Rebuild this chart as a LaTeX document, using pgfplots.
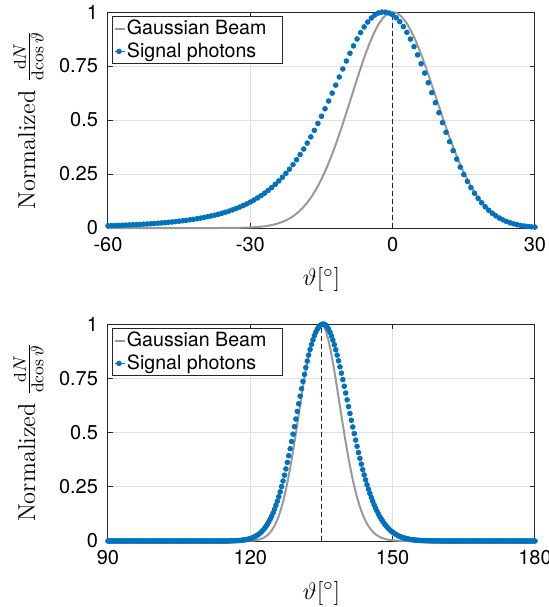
\documentclass[border=0pt]{standalone}
\usepackage{fontspec}
\usepackage{pgfplots}
\pgfplotsset{compat=1.18}
\newfontfamily\helv{TeX Gyre Heros}

\definecolor{mblue}{RGB}{0,114,189}
\definecolor{mgray}{RGB}{153,153,153}
\definecolor{axgray}{RGB}{38,38,38}
\definecolor{gridgray}{RGB}{225,225,225}

\pgfplotsset{
  panel/.style={
    scale only axis, width=213.5pt,
    ymin=0, ymax=1,
    ytick={0,0.25,0.5,0.75,1}, yticklabels={0,0.25,0.5,0.75,1},
    axis line style={draw=axgray, line width=0.5pt},
    tick style={draw=axgray, line width=0.5pt},
    major tick length=2.5pt,
    tick align=inside,
    xmajorgrids, ymajorgrids,
    major grid style={draw=gridgray, line width=0.5pt},
    tick label style={font=\fontsize{10}{12}\selectfont\helv},
    yticklabel style={xshift=-1.5pt},
    xticklabel style={yshift=-1pt},
    xlabel={$\vartheta[^\circ]$},
    ylabel={Normalized $\frac{\mathrm{d}N}{\mathrm{dcos}\,\vartheta}$},
    label style={font=\fontsize{12.2}{14}\selectfont},
    ylabel style={at={(axis description cs:-0.186,0.5)}, anchor=center},
    xlabel style={at={(axis description cs:0.5,-0.24)}, anchor=center},
    clip=false,
    reverse legend,
    legend cell align=left,
    legend style={at={(rel axis cs:0,1)}, anchor=north west,
      xshift=2pt, yshift=-2pt, draw=axgray, line width=0.5pt, fill=white,
      font=\fontsize{9.8}{11}\selectfont\helv,
      inner xsep=0.75pt, inner ysep=0.75pt, column sep=0pt, row sep=0pt,
      nodes={inner xsep=0.5pt, inner ysep=1.15pt}},
  },
  photons/.style={color=mblue, only marks, mark=*, mark size=1.2pt,
    mark options={solid, draw=mblue, fill=mblue, line width=0.35pt},
    legend image code/.code={\path (0pt,0pt) -- (5pt,0pt);
      \draw[##1] plot coordinates {(2pt,0pt)};}},
  beam/.style={color=mgray, no marks, line width=1pt,
    legend image code/.code={\draw[##1] (0pt,0pt) -- (5pt,0pt);}},
  peak/.style={forget plot, no marks, draw=axgray, line width=0.55pt,
    dash pattern=on 2.5pt off 1.5pt},
}

\begin{document}
\begin{tikzpicture}
\useasboundingbox (0,0) rectangle (274.5pt,-303.5pt);

% ---------- forward direction ----------
\begin{axis}[panel, height=108pt, at={(54pt,-6pt)}, anchor=north west,
  xmin=-60, xmax=30, xtick={-60,-30,0,30}, xticklabels={-60,-30,0,30}]
\addplot[photons] coordinates {
(-60,0.0105) (-59.25,0.0110) (-58.5,0.0116) (-57.75,0.0122) (-57,0.0128)
(-56.25,0.0135) (-55.5,0.0142) (-54.75,0.0150) (-54,0.0158) (-53.25,0.0167)
(-52.5,0.0176) (-51.75,0.0186) (-51,0.0197) (-50.25,0.0208) (-49.5,0.0221)
(-48.75,0.0234) (-48,0.0248) (-47.25,0.0263) (-46.5,0.0279) (-45.75,0.0296)
(-45,0.0314) (-44.25,0.0334) (-43.5,0.0355) (-42.75,0.0378) (-42,0.0403)
(-41.25,0.0429) (-40.5,0.0458) (-39.75,0.0488) (-39,0.0522) (-38.25,0.0557)
(-37.5,0.0596) (-36.75,0.0637) (-36,0.0683) (-35.25,0.0731) (-34.5,0.0783)
(-33.75,0.0840) (-33,0.0902) (-32.25,0.0968) (-31.5,0.1040) (-30.75,0.1117)
(-30,0.1202) (-29.25,0.1293) (-28.5,0.1391) (-27.75,0.1498) (-27,0.1614)
(-26.25,0.1739) (-25.5,0.1873) (-24.75,0.2019) (-24,0.2177) (-23.25,0.2346)
(-22.5,0.2528) (-21.75,0.2724) (-21,0.2934) (-20.25,0.3160) (-19.5,0.3400)
(-18.75,0.3658) (-18,0.3930) (-17.25,0.4218) (-16.5,0.4522) (-15.75,0.4842)
(-15,0.5174) (-14.25,0.5521) (-13.5,0.5879) (-12.75,0.6244) (-12,0.6615)
(-11.25,0.6989) (-10.5,0.7362) (-9.75,0.7731) (-9,0.8089) (-8.25,0.8431)
(-7.5,0.8751) (-6.75,0.9046) (-6,0.9310) (-5.25,0.9536) (-4.5,0.9722)
(-3.75,0.9862) (-3,0.9955) (-2.25,0.9997) (-1.5,0.9993) (-0.75,0.9951)
(0,0.9864) (0.75,0.9732) (1.5,0.9552) (2.25,0.9327) (3,0.9057)
(3.75,0.8746) (4.5,0.8398) (5.25,0.8016) (6,0.7606) (6.75,0.7174)
(7.5,0.6725) (8.25,0.6266) (9,0.5801) (9.75,0.5336) (10.5,0.4877)
(11.25,0.4429) (12,0.3996) (12.75,0.3581) (13.5,0.3188) (14.25,0.2819)
(15,0.2476) (15.75,0.2160) (16.5,0.1872) (17.25,0.1611) (18,0.1376)
(18.75,0.1167) (19.5,0.0983) (20.25,0.0823) (21,0.0683) (21.75,0.0564)
(22.5,0.0462) (23.25,0.0375) (24,0.0303) (24.75,0.0243) (25.5,0.0193)
(26.25,0.0152) (27,0.0119) (27.75,0.0093) (28.5,0.0072) (29.25,0.0055)
(30,0.0042)
};
\addlegendentry{Signal photons}
\addplot[beam] coordinates {
(-60,0) (-37,0) (-36,0.0002) (-35,0.0003) (-34,0.0005) (-33,0.0008)
(-32,0.0012) (-31,0.0018) (-30,0.0026) (-29,0.0039) (-28,0.0056)
(-27,0.0081) (-26,0.0115) (-25,0.0161) (-24,0.0223) (-23,0.0304)
(-22,0.0409) (-21,0.0543) (-20,0.0712) (-19,0.0921) (-18,0.1176)
(-17,0.1482) (-16,0.1843) (-15,0.2262) (-14,0.2740) (-13,0.3275)
(-12,0.3863) (-11,0.4497) (-10,0.5166) (-9,0.5856) (-8,0.6552)
(-7,0.7235) (-6,0.7884) (-5,0.8478) (-4,0.8997) (-3,0.9423)
(-2,0.9739) (-1,0.9934) (0,1) (1,0.9940) (2,0.9761) (3,0.9471)
(4,0.9079) (5,0.8599) (6,0.8047) (7,0.7439) (8,0.6795) (9,0.6132)
(10,0.5467) (11,0.4816) (12,0.4192) (13,0.3605) (14,0.3062) (15,0.2571)
(16,0.2132) (17,0.1746) (18,0.1414) (19,0.1131) (20,0.0893) (21,0.0698)
(22,0.0538) (23,0.0410) (24,0.0309) (25,0.0230) (26,0.0169) (27,0.0123)
(28,0.0088) (29,0.0062) (30,0.0044)
};
\addlegendentry{Gaussian Beam\hspace*{6.8pt}}
\addplot[peak] coordinates {(0,0) (0,1)};
\end{axis}

% ---------- backward direction ----------
\begin{axis}[panel, height=108.5pt, at={(54pt,-162pt)}, anchor=north west,
  xmin=90, xmax=180, xtick={90,120,150,180}, xticklabels={90,120,150,180}]
\addplot[photons] coordinates {
(90,0) (90.3,0) (90.6,0) (90.9,0) (91.2,0) (91.5,0) (91.8,0) (92.1,0) (92.4,0) (92.7,0)
(93,0) (93.3,0) (93.6,0) (93.9,0) (94.2,0) (94.5,0) (94.8,0) (95.1,0) (95.4,0) (95.7,0)
(96,0) (96.3,0) (96.6,0) (96.9,0) (97.2,0) (97.5,0) (97.8,0) (98.1,0) (98.4,0) (98.7,0)
(99,0) (99.3,0) (99.6,0) (99.9,0) (100.2,0) (100.5,0) (100.8,0) (101.1,0) (101.4,0) (101.7,0)
(102,0) (102.3,0) (102.6,0) (102.9,0) (103.2,0) (103.5,0) (103.8,0) (104.1,0) (104.4,0) (104.7,0)
(105,0) (105.3,0) (105.6,0) (105.9,0) (106.2,0) (106.5,0) (106.8,0) (107.1,0) (107.4,0) (107.7,0)
(108,0) (108.3,0) (108.6,0) (108.9,0) (109.2,0) (109.5,0) (109.8,0) (110.1,0) (110.4,0) (110.7,0)
(111,0) (111.3,0) (111.6,0) (111.9,0) (112.2,0) (112.5,0) (112.8,0) (113.1,0) (113.4,0) (113.7,0)
(114,0) (114.3,0) (114.6,0) (114.9,0) (115.2,0) (115.5,0.0004)
(115.8,0.0006) (116.1,0.0008) (116.4,0.0010) (116.7,0.0012) (117.0,0.0015)
(117.3,0.0019) (117.6,0.0023) (117.9,0.0029) (118.2,0.0035) (118.5,0.0043)
(118.8,0.0053) (119.1,0.0064) (119.4,0.0078) (119.7,0.0095) (120.0,0.0114)
(120.3,0.0136) (120.6,0.0163) (120.9,0.0194) (121.2,0.0229) (121.5,0.0271)
(121.8,0.0318) (122.1,0.0372) (122.4,0.0435) (122.7,0.0504) (123.0,0.0584)
(123.3,0.0674) (123.6,0.0773) (123.9,0.0885) (124.2,0.1009) (124.5,0.1146)
(124.8,0.1296) (125.1,0.1461) (125.4,0.1640) (125.7,0.1834) (126.0,0.2044)
(126.3,0.2269) (126.6,0.2510) (126.9,0.2766) (127.2,0.3037) (127.5,0.3322)
(127.8,0.3621) (128.1,0.3931) (128.4,0.4254) (128.7,0.4586) (129.0,0.4925)
(129.3,0.5271) (129.6,0.5621) (129.9,0.5974) (130.2,0.6325) (130.5,0.6675)
(130.8,0.7019) (131.1,0.7355) (131.4,0.7680) (131.7,0.7993) (132.0,0.8290)
(132.3,0.8568) (132.6,0.8827) (132.9,0.9063) (133.2,0.9275) (133.5,0.9462)
(133.8,0.9622) (134.1,0.9754) (134.4,0.9857) (134.7,0.9932) (135.0,0.9979)
(135.3,0.9999) (135.6,0.9990) (135.9,0.9943) (136.2,0.9863) (136.5,0.9752)
(136.8,0.9613) (137.1,0.9448) (137.4,0.9259) (137.7,0.9047) (138.0,0.8816)
(138.3,0.8568) (138.6,0.8303) (138.9,0.8025) (139.2,0.7735) (139.5,0.7437)
(139.8,0.7131) (140.1,0.6821) (140.4,0.6507) (140.7,0.6192) (141.0,0.5877)
(141.3,0.5565) (141.6,0.5256) (141.9,0.4951) (142.2,0.4653) (142.5,0.4362)
(142.8,0.4079) (143.1,0.3806) (143.4,0.3543) (143.7,0.3289) (144.0,0.3046)
(144.3,0.2815) (144.6,0.2595) (144.9,0.2387) (145.2,0.2190) (145.5,0.2005)
(145.8,0.1831) (146.1,0.1669) (146.4,0.1516) (146.7,0.1376) (147.0,0.1245)
(147.3,0.1124) (147.6,0.1013) (147.9,0.0910) (148.2,0.0816) (148.5,0.0730)
(148.8,0.0651) (149.1,0.0580) (149.4,0.0515) (149.7,0.0457) (150.0,0.0405)
(150.3,0.0357) (150.6,0.0315) (150.9,0.0276) (151.2,0.0242) (151.5,0.0212)
(151.8,0.0185) (152.1,0.0161) (152.4,0.0140) (152.7,0.0121) (153.0,0.0105)
(153.3,0.0091) (153.6,0.0078) (153.9,0.0067) (154.2,0.0058) (154.5,0.0049)
(154.8,0.0042) (155.1,0.0036) (155.4,0.0031) (155.7,0.0026) (156.0,0.0022)
(156.3,0.0019) (156.6,0.0016) (156.9,0.0013) (157.2,0.0011) (157.5,0.0009)
(157.8,0.0008) (158.1,0.0006) (158.4,0.0005)
(158.7,0.0004) (159,0.0003) (159.3,0.0003) (159.6,0.0002) (159.9,0.0002)
(160.2,0) (160.5,0) (160.8,0) (161.1,0) (161.4,0) (161.7,0) (162,0) (162.3,0) (162.6,0) (162.9,0)
(163.2,0) (163.5,0) (163.8,0) (164.1,0) (164.4,0) (164.7,0) (165,0) (165.3,0) (165.6,0) (165.9,0)
(166.2,0) (166.5,0) (166.8,0) (167.1,0) (167.4,0) (167.7,0) (168,0) (168.3,0) (168.6,0) (168.9,0)
(169.2,0) (169.5,0) (169.8,0) (170.1,0) (170.4,0) (170.7,0) (171,0) (171.3,0) (171.6,0) (171.9,0)
(172.2,0) (172.5,0) (172.8,0) (173.1,0) (173.4,0) (173.7,0) (174,0) (174.3,0) (174.6,0) (174.9,0)
(175.2,0) (175.5,0) (175.8,0) (176.1,0) (176.4,0) (176.7,0) (177,0) (177.3,0) (177.6,0) (177.9,0)
(178.2,0) (178.5,0) (178.8,0) (179.1,0) (179.4,0) (179.7,0) (180,0)
};
\addlegendentry{Signal photons}
\addplot[beam] coordinates {
(118,0.0002) (118.5,0.0003) (119,0.0005) (119.5,0.0008) (120,0.0013)
(120.5,0.0021) (121,0.0034) (121.5,0.0052) (122,0.0079) (122.5,0.0118)
(123,0.0173) (123.5,0.0248) (124,0.0351) (124.5,0.0485) (125,0.0660)
(125.5,0.0883) (126,0.1159) (126.5,0.1494) (127,0.1896) (127.5,0.2362)
(128,0.2894) (128.5,0.3488) (129,0.4134) (129.5,0.4822) (130,0.5536)
(130.5,0.6255) (131,0.6963) (131.5,0.7634) (132,0.8251) (132.5,0.8792)
(133,0.9242) (133.5,0.9590) (134,0.9830) (134.5,0.9963) (135,1)
(135.5,0.9894) (136,0.9621) (136.5,0.9216) (137,0.8702) (137.5,0.8105)
(138,0.7450) (138.5,0.6760) (139,0.6058) (139.5,0.5362) (140,0.4690)
(140.5,0.4053) (141,0.3460) (141.5,0.2921) (142,0.2438) (142.5,0.2012)
(143,0.1642) (143.5,0.1325) (144,0.1058) (144.5,0.0835) (145,0.0652)
(145.5,0.0504) (146,0.0385) (146.5,0.0291) (147,0.0218) (147.5,0.0162)
(148,0.0119) (148.5,0.0086) (149,0.0062) (149.5,0.0044) (150,0.0031)
(150.5,0.0022) (151,0.0015) (151.5,0.0010) (152,0.0007) (153,0.0003)
(154,0) (180,0)
};
\addlegendentry{Gaussian Beam\hspace*{6.8pt}}
\addplot[peak] coordinates {(135,0) (135,1)};
\end{axis}
\end{tikzpicture}
\end{document}
